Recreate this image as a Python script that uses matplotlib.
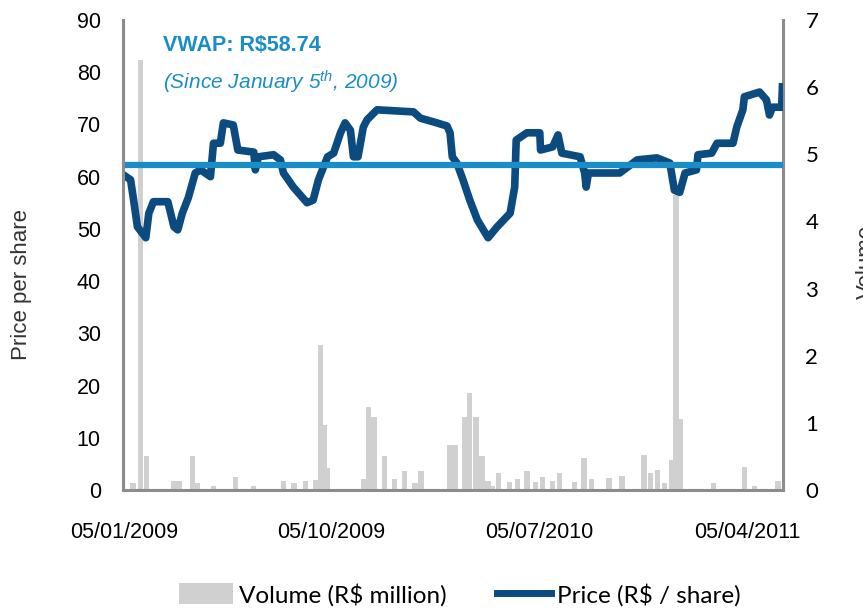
"""Price per share vs. traded volume, Jan 2009 - May 2011."""
import matplotlib
matplotlib.use('Agg')
import matplotlib.pyplot as plt
import matplotlib.dates as mdates
import pandas as pd
from matplotlib.patches import Patch
from matplotlib.lines import Line2D

# price (R$ / share)
price_dates = ['2009-01-05', '2009-01-14', '2009-01-18', '2009-01-23', '2009-02-03', '2009-02-07',
               '2009-02-13', '2009-03-04', '2009-03-12', '2009-03-17', '2009-03-23', '2009-03-31',
               '2009-04-09', '2009-04-16', '2009-04-29', '2009-05-03', '2009-05-12', '2009-05-16',
               '2009-05-29', '2009-06-04', '2009-06-25', '2009-06-27', '2009-07-01', '2009-07-21',
               '2009-07-30', '2009-08-03', '2009-08-16', '2009-09-03', '2009-09-11', '2009-09-18',
               '2009-09-30', '2009-10-08', '2009-10-17', '2009-10-23', '2009-10-30', '2009-11-03',
               '2009-11-09', '2009-11-16', '2009-11-21', '2009-12-04', '2010-01-21', '2010-01-30',
               '2010-02-16', '2010-03-06', '2010-03-10', '2010-03-13', '2010-03-19', '2010-03-27',
               '2010-04-05', '2010-04-15', '2010-04-29', '2010-05-11', '2010-05-28', '2010-06-03',
               '2010-06-05', '2010-06-19', '2010-07-06', '2010-07-07', '2010-07-23', '2010-07-30',
               '2010-08-04', '2010-08-28', '2010-09-03', '2010-09-05', '2010-09-08', '2010-10-19',
               '2010-11-11', '2010-12-07', '2010-12-24', '2010-12-30', '2011-01-06', '2011-01-13',
               '2011-01-28', '2011-01-30', '2011-02-17', '2011-02-24', '2011-03-17', '2011-03-22',
               '2011-03-30', '2011-04-01', '2011-04-21', '2011-04-30', '2011-05-04', '2011-05-08',
               '2011-05-20', '2011-05-21']
price_vals = [60.3, 59.4, 55.5, 50.4, 48.3, 53.0,
              55.2, 55.2, 50.4, 49.8, 53.0, 56.0,
              60.7, 61.3, 60.0, 66.4, 66.4, 70.3,
              69.9, 65.1, 64.7, 61.3, 63.8, 64.2,
              63.2, 60.7, 58.0, 55.0, 55.5, 59.4,
              63.8, 64.5, 68.4, 70.3, 68.9, 63.8,
              63.8, 69.5, 70.9, 72.8, 72.4, 71.2,
              70.5, 69.7, 68.4, 63.8, 62.6, 59.4,
              55.5, 51.7, 48.3, 50.4, 53.0, 58.0,
              67.0, 68.4, 68.4, 65.1, 65.7, 68.0,
              64.5, 63.8, 60.7, 58.0, 60.7, 60.7,
              63.2, 63.6, 62.6, 57.4, 57.0, 60.7,
              61.3, 64.2, 64.5, 66.4, 66.4, 69.5,
              72.8, 75.3, 76.2, 74.7, 71.8, 73.3,
              73.3, 77.2]

# weekly volume (R$ million)
vol_dates = ['2009-01-17', '2009-01-27', '2009-02-04', '2009-03-12', '2009-03-19', '2009-04-05',
             '2009-04-12', '2009-05-03', '2009-06-01', '2009-06-25', '2009-08-03', '2009-08-17',
             '2009-09-01', '2009-09-14', '2009-09-21', '2009-09-26', '2009-09-30', '2009-11-16',
             '2009-11-23', '2009-11-30', '2009-12-14', '2009-12-27', '2010-01-09', '2010-01-23',
             '2010-01-31', '2010-03-10', '2010-03-17', '2010-03-29', '2010-04-05', '2010-04-13',
             '2010-04-21', '2010-04-29', '2010-05-05', '2010-05-13', '2010-05-27', '2010-06-07',
             '2010-06-19', '2010-06-30', '2010-07-10', '2010-07-23', '2010-08-01', '2010-08-21',
             '2010-09-02', '2010-09-12', '2010-10-05', '2010-10-22', '2010-11-20', '2010-11-29',
             '2010-12-08', '2010-12-17', '2010-12-26', '2011-01-01', '2011-01-07', '2011-02-19',
             '2011-04-01', '2011-04-14', '2011-05-15']
vol_vals = [0.10, 6.40, 0.50, 0.13, 0.13, 0.50,
            0.10, 0.06, 0.20, 0.06, 0.13, 0.10,
            0.13, 0.15, 2.16, 0.97, 0.33, 0.16,
            1.24, 1.09, 0.50, 0.16, 0.28, 0.10,
            0.28, 0.67, 0.67, 1.09, 1.45, 1.09,
            0.50, 0.14, 0.06, 0.25, 0.12, 0.16,
            0.28, 0.12, 0.20, 0.13, 0.25, 0.12,
            0.48, 0.16, 0.18, 0.21, 0.52, 0.26,
            0.30, 0.10, 0.45, 4.40, 1.05, 0.10,
            0.34, 0.06, 0.14]

vwap_level = 62.2
vwap_text = 'VWAP: R$58.74'
tick_dates = ['2009-01-05', '2009-10-05', '2010-07-05', '2011-04-05']

plt.rcParams['mathtext.fontset'] = 'custom'
plt.rcParams['mathtext.it'] = 'Liberation Sans:italic'
plt.rcParams['mathtext.rm'] = 'Liberation Sans'

navy = '#0b4b7f'
vwap_col = '#1b8dc6'
bar_col = '#d0d0d0'
spine_col = '#8c8c8c'

fig = plt.figure(figsize=(8.63, 6.15), dpi=100)
ax = fig.add_axes([0.1425, 0.2033, 0.765, 0.7642])
ax2 = ax.twinx()
ax.set_zorder(ax2.get_zorder() + 1)
ax.patch.set_visible(False)

ax2.bar(pd.to_datetime(vol_dates), vol_vals, width=7, color=bar_col, align='center')
ax.plot(pd.to_datetime(price_dates), price_vals, color=navy, lw=5.5, solid_joinstyle='round')
ax.axhline(vwap_level, color=vwap_col, lw=4.5)

ax.set_ylim(0, 90)
ax.set_yticks(range(0, 91, 10))
ax2.set_ylim(0, 7)
ax2.set_yticks(range(0, 8))
ax.set_xlim(pd.Timestamp('2009-01-04'), pd.Timestamp('2011-05-22'))
ax.set_xticks(pd.to_datetime(tick_dates))
ax.xaxis.set_major_formatter(mdates.DateFormatter('%d/%m/%Y'))

for a in (ax, ax2):
    for s in a.spines.values():
        s.set_visible(False)
for s in (ax.spines['left'], ax.spines['bottom'], ax2.spines['right']):
    s.set_visible(True)
    s.set_color(spine_col)
    s.set_linewidth(2.2)

ax.tick_params(axis='y', length=0, pad=16, labelsize=15.5)
ax.tick_params(axis='x', length=0, pad=23, labelsize=15.5)
ax2.tick_params(axis='y', length=0, pad=16, labelsize=16)
for lab in ax.get_yticklabels() + ax.get_xticklabels():
    lab.set_fontfamily('Liberation Sans')
for lab in ax2.get_yticklabels():
    lab.set_fontfamily('Lato')

ax.text(0.06, 0.945, vwap_text, transform=ax.transAxes, color=vwap_col,
        fontsize=15.5, fontweight='bold', family='Liberation Sans', va='center')
ax.text(0.06, 0.868, r'(Since January 5$^{th}$, 2009)', transform=ax.transAxes, color=vwap_col,
        fontsize=15, style='italic', family='Liberation Sans', va='center')

fig.text(22 / 863, 1 - 285 / 615, 'Price per share', rotation=90, ha='center', va='center',
         fontsize=16, color='#333333', family='Liberation Sans')
# the right-hand axis title runs off the edge in the original
fig.text(866 / 863, 1 - 262 / 615, 'Volume', rotation=90, ha='center', va='center',
         fontsize=16, color='#333333', family='Liberation Sans')

handles = [Patch(facecolor=bar_col, edgecolor='none'), Line2D([], [], color=navy, lw=5)]
fig.legend(handles, ['Volume (R$ million)', 'Price (R$ / share)'], loc='center',
           bbox_to_anchor=(0.533, 0.033), ncol=2, frameon=False, handlelength=2.2,
           handleheight=0.95, handletextpad=0.25, columnspacing=2.1,
           prop={'family': 'Lato', 'size': 17.5})

fig.savefig('out.png', dpi=100)
